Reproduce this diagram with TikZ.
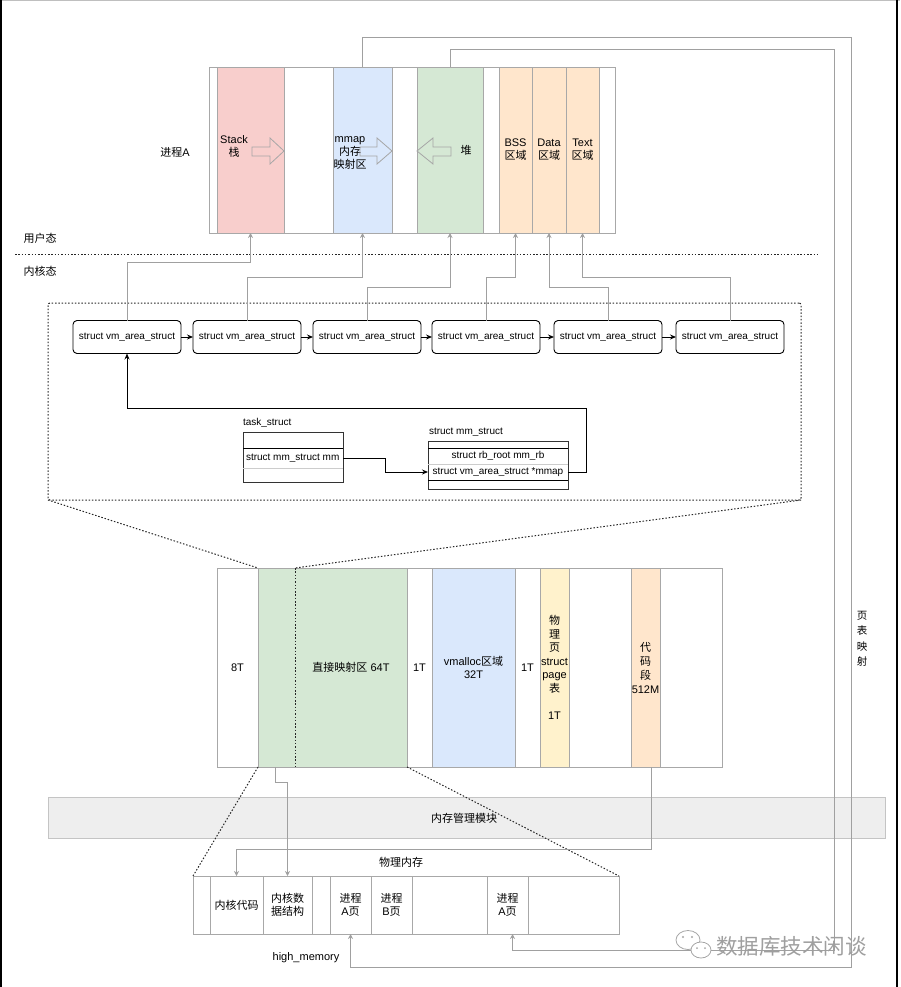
\documentclass[tikz,border=0pt]{standalone}
\usepackage{fontspec}
\setmainfont{Liberation Sans}
\newfontfamily\cjk{Noto Sans CJK SC}
\usetikzlibrary{arrows.meta,calc}
\definecolor{segc}{HTML}{A8A8A8}
\definecolor{linec}{HTML}{A0A0A0}
\definecolor{pinkc}{HTML}{F8CECC}
\definecolor{bluec}{HTML}{DAE8FC}
\definecolor{greenc}{HTML}{D5E8D4}
\definecolor{orangec}{HTML}{FFE6CC}
\definecolor{yellowc}{HTML}{FFF2CC}
\definecolor{bandc}{HTML}{EEEEEE}
\definecolor{bandline}{HTML}{C4C4C4}
\tikzset{
 every node/.style={inner sep=0pt, outer sep=0pt},
 f11/.style={font=\fontsize{11pt}{13pt}\selectfont},
 f10/.style={font=\fontsize{10pt}{12pt}\selectfont},
 seg/.style={draw=segc, line width=0.9pt, anchor=north west, align=center, f11},
 useg/.style={seg, minimum height=166pt},
 kseg/.style={seg, minimum height=199pt},
 pseg/.style={seg, minimum height=58pt},
 vm/.style={draw=black, line width=0.9pt, rounded corners=4pt, minimum width=108pt, minimum height=33pt, f10},
 dotline/.style={draw=black!85, line width=1pt, dash pattern=on 1.5pt off 1.8pt},
 barrow/.style={draw=black, line width=0.9pt, -{Stealth[length=6pt,width=5pt]}},
 garrow/.style={draw=linec, line width=0.9pt, -{Stealth[length=5pt,width=5pt]}},
 blockarrow/.style={draw=gray!70, line width=0.8pt},
}
\begin{document}
\begin{tikzpicture}[x=1pt,y=-1pt]
\useasboundingbox (0,0) rectangle (900,987);
% frame
\draw[gray!50, line width=1pt] (0,0.5) -- (900,0.5);
\draw[black, line width=2pt] (1,0) -- (1,987);
\draw[black, line width=1.5pt] (897,0) -- (897,987);

% ---------- user space ----------
\node[useg, fill=white, minimum width=406pt] (ubox) at (209,67) {};
\node[useg, fill=pinkc, minimum width=67pt] (stack) at (217,67) {};
\node[useg, fill=bluec, minimum width=59pt] (mmap) at (333,67) {};
\node[useg, fill=greenc, minimum width=66pt] (heap) at (417,67) {};
\node[useg, fill=orangec, minimum width=33pt] (bss) at (499,67) {};
\node[useg, fill=orangec, minimum width=34pt] (data) at (532,67) {};
\node[useg, fill=orangec, minimum width=33pt] (textseg) at (566,67) {};
\node[f11, align=center] (lstack) at (234,146) {Stack\\{\cjk 栈}};
\node[f11, align=center] (lmmap) at (350,153) {mmap\\{\cjk 内存}\\{\cjk 映射区}};
\node[f11] (lheap) at (466,150) {\cjk 堆};
\node[f11, align=center] (lbss) at (bss.center) {BSS\\{\cjk 区域}};
\node[f11, align=center] (ldata) at (data.center) {Data\\{\cjk 区域}};
\node[f11, align=center] (ltext) at (textseg.center) {Text\\{\cjk 区域}};
\draw[blockarrow] (252,147) -- (270,147) -- (270,138) -- (284,151) -- (270,164) -- (270,156) -- (252,156) -- cycle;
\draw[blockarrow] (360,147) -- (377,147) -- (377,138) -- (392,151) -- (377,164) -- (377,156) -- (360,156) -- cycle;
\draw[blockarrow] (451,147) -- (433,147) -- (433,138) -- (417,151) -- (433,164) -- (433,156) -- (451,156) -- cycle;

\node[f11] (lproc) at (175,152) {{\cjk 进程}A};
\node[f11] (luser) at (40,238) {\cjk 用户态};
\node[f11] (lkern) at (40,271) {\cjk 内核态};
\coordinate (sepL) at (15,254);
\coordinate (sepR) at (818,254);
\draw[dotline] (sepL) -- (sepR);

% ---------- vm_area_struct chain ----------
\node[dotline, draw, rounded corners=2pt, minimum width=753pt, minimum height=197pt, anchor=north west] (dbox) at (48,303) {};
\node[vm] (v1) at (127,337) {struct vm\_area\_struct};
\node[vm] (v2) at (247,337) {struct vm\_area\_struct};
\node[vm] (v3) at (367,337) {struct vm\_area\_struct};
\node[vm] (v4) at (486,337) {struct vm\_area\_struct};
\node[vm] (v5) at (608,337) {struct vm\_area\_struct};
\node[vm] (v6) at (730,337) {struct vm\_area\_struct};
\draw[barrow] (v1) -- (v2);
\draw[barrow] (v2) -- (v3);
\draw[barrow] (v3) -- (v4);
\draw[barrow] (v4) -- (v5);
\draw[barrow] (v5) -- (v6);

\draw[garrow] (v1.north) -- ++(0,-58) -| (stack.south);
\draw[garrow] (v2.north) -- ++(0,-43) -| (mmap.south);
\draw[garrow] (v3.north) -- ++(0,-33) -| (heap.south);
\draw[garrow] (v4.north) -- ++(0,-43) -| (bss.south);
\draw[garrow] (v5.north) -- ++(0,-33) -| (data.south);
\draw[garrow] (v6.north) -- ++(0,-43) -| (textseg.south);

% task_struct
\node[f10, anchor=west] (ltask) at (243,423) {task\_struct};
\node[draw=black!80, line width=0.8pt, minimum width=100pt, minimum height=50pt, anchor=north west] (task) at (243,432) {};
\draw[black, line width=0.9pt] ($(task.north west)+(0,16)$) -- ($(task.north east)+(0,16)$);
\draw[gray!40, line width=0.7pt] ($(task.north west)+(0,36)$) -- ($(task.north east)+(0,36)$);
\node[f10, anchor=west] (tmm) at (246,458) {struct mm\_struct mm};

% mm_struct
\node[f10, anchor=west] (lmm) at (429,432) {struct mm\_struct};
\node[draw=black!80, line width=0.8pt, minimum width=140pt, minimum height=48pt, anchor=north west] (mm) at (428,441) {};
\draw[black, line width=0.9pt] ($(mm.north west)+(0,7)$) -- ($(mm.north east)+(0,7)$);
\draw[gray!40, line width=0.7pt] ($(mm.north west)+(0,23)$) -- ($(mm.north east)+(0,23)$);
\draw[black, line width=0.9pt] ($(mm.north west)+(0,39)$) -- ($(mm.north east)+(0,39)$);
\node[f10] (mrb) at (498,456) {struct rb\_root mm\_rb};
\node[f10] (mmp) at (498,472) {struct vm\_area\_struct *mmap};

\draw[barrow] (tmm.west -| task.east) -- ++(42,0) |- (mmp.west -| mm.west);
\draw[barrow] (mmp.east -| mm.east) -- ++(18,0) -- ++(0,-64) -| (v1.south);

% ---------- kernel layout ----------
\node[kseg, fill=white, minimum width=505pt] (kbox) at (217,568) {};
\node[kseg, minimum width=41pt] (k8t) at (217,568) {8T};
\node[kseg, fill=greenc, minimum width=149pt] (kdirect) at (258,568) {};
\node[kseg, minimum width=25pt] (k1a) at (407,568) {1T};
\node[kseg, fill=bluec, minimum width=83pt] (kvm) at (432,568) {vmalloc{\cjk 区域}\\32T};
\node[kseg, minimum width=25pt] (k1b) at (515,568) {1T};
\node[kseg, fill=yellowc, minimum width=29pt, font=\fontsize{11pt}{13.5pt}\selectfont] (kpage) at (540,568) {{\cjk 物}\\{\cjk 理}\\{\cjk 页}\\struct\\page\\{\cjk 表}\\ \\1T};
\node[kseg, minimum width=62pt] (kw) at (569,568) {};
\node[kseg, fill=orangec, minimum width=29pt, font=\fontsize{11pt}{14pt}\selectfont] (kcode) at (631,568) {{\cjk 代}\\{\cjk 码}\\{\cjk 段}\\512M};
\node[kseg, minimum width=62pt] (kw2) at (660,568) {};
\node[f11] (ldirect) at (351,667) {{\cjk 直接映射区} 64T};
\coordinate (dvtop) at ($(kdirect.north west)+(37,0)$);
\coordinate (dvbot) at ($(kdirect.south west)+(37,0)$);
\draw[dotline] (dvtop) -- (dvbot);
\draw[dotline] (dbox.south west) -- (kdirect.north west);
\draw[dotline] (dbox.south east) -- (dvtop);

% ---------- memory management band ----------
\node[draw=bandline, fill=bandc, line width=0.9pt, minimum width=837pt, minimum height=41pt, anchor=north west, f11] (band) at (48,797) {};
\node[f11] (lband) at (464,818) {\cjk 内存管理模块};

% ---------- physical memory ----------
\node[f11] (lphys) at (401,862) {\cjk 物理内存};
\node[pseg, fill=white, minimum width=426pt] (phys) at (193,876) {};
\node[pseg, minimum width=17pt] (p0) at (193,876) {};
\node[pseg, minimum width=53pt] (pk) at (210,876) {\cjk 内核代码};
\node[pseg, minimum width=49pt] (pd) at (263,876) {{\cjk 内核数}\\{\cjk 据结构}};
\node[pseg, minimum width=18pt] (pe) at (312,876) {};
\node[pseg, minimum width=41pt] (pa1) at (330,876) {{\cjk 进程}\\A{\cjk 页}};
\node[pseg, minimum width=41pt] (pb) at (371,876) {{\cjk 进程}\\B{\cjk 页}};
\node[pseg, minimum width=75pt] (pf) at (412,876) {};
\node[pseg, minimum width=41pt] (pa2) at (487,876) {{\cjk 进程}\\A{\cjk 页}};
\node[pseg, minimum width=91pt] (pg) at (528,876) {};
\node[f11] (lhigh) at (306,958) {high\_memory};

\draw[dotline] (kdirect.south west) -- (phys.north west);
\draw[dotline] (kdirect.south east) -- (phys.north east);

% gray mapping connectors
\draw[garrow] ($(kdirect.south west)+(17,0)$) -- ++(0,15) -| (pd.north);
\draw[garrow] ($(kcode.south)+(6,0)$) -- ++(0,82) -| (pk.north);
\coordinate (o1) at (851,37);
\coordinate (o2) at (851,967);
\coordinate (i1) at (834,49);
\coordinate (i2) at (834,950);
\draw[garrow] (mmap.north) |- (o1) -- (o2) -| (pa1.south);
\draw[garrow] (heap.north) |- (i1) -- (i2) -| ($(pa2.south)+(5,0)$);
\node[align=center, font=\fontsize{10.5pt}{15.5pt}\selectfont] (lpt) at (862,639) {{\cjk 页}\\{\cjk 表}\\{\cjk 映}\\{\cjk 射}};

% watermark
\draw[gray!70, fill=white, line width=0.8pt] (688,940) ellipse [x radius=12pt, y radius=9.5pt];
\draw[gray!70, fill=white, line width=0.8pt] (701,950) ellipse [x radius=10pt, y radius=8pt];
\fill[gray!70] (683,937) circle (1.2pt) (692,937) circle (1.2pt) (697,948) circle (1pt) (705,948) circle (1pt);
\node[text=gray!75, anchor=west, font=\cjk\fontsize{21.5pt}{23pt}\selectfont] (wm) at (716,946) {数据库技术闲谈};
\end{tikzpicture}
\end{document}
